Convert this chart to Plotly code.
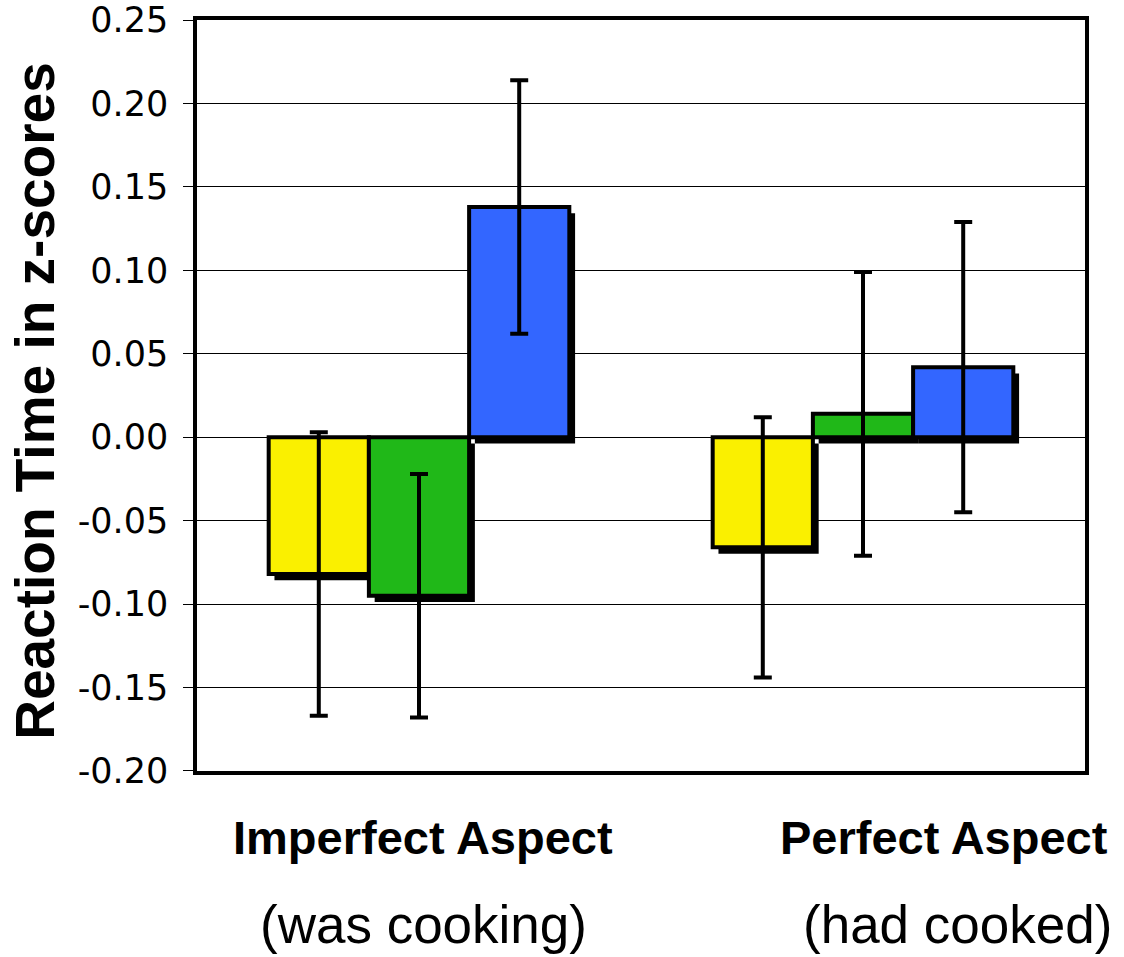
import plotly.graph_objects as go

# Aspect conditions along the x axis
categories = ["Imperfect Aspect", "Perfect Aspect"]
examples = ["(was cooking)", "(had cooked)"]

# Mean reaction times (z-scores) for the three conditions per aspect
series_names = ["Condition 1", "Condition 2", "Condition 3"]
yellow_vals = [-0.082, -0.066]
green_vals = [-0.095, 0.014]
blue_vals = [0.138, 0.042]

# Error bar half-lengths
yellow_err = [0.085, 0.078]
green_err = [0.073, 0.085]
blue_err = [0.076, 0.087]

y_ticks = [-0.20, -0.15, -0.10, -0.05, 0.00, 0.05, 0.10, 0.15, 0.20, 0.25]
y_tick_labels = ["-0.20", "-0.15", "-0.10", "-0.05", "0.00",
                 "0.05", "0.10", "0.15", "0.20", "0.25"]

values = [yellow_vals, green_vals, blue_vals]
errors = [yellow_err, green_err, blue_err]
colors = ["#FAF000", "#20B818", "#3366FF"]

bar_w = 0.2257          # width of each bar in category units
group_start = -1.5 * bar_w
shadow_dx = 0.013       # drop-shadow shift in category units
shadow_dy = -0.0038     # drop-shadow shift in data units

fig = go.Figure()

# Black drop shadows behind the bars
for i, vals in enumerate(values):
    fig.add_trace(go.Bar(
        x=categories, y=vals,
        base=shadow_dy,
        width=bar_w, offset=group_start + i * bar_w + shadow_dx,
        marker=dict(color="black", line=dict(width=0)),
        hoverinfo="skip", showlegend=False,
    ))

# Coloured bars with error bars
for i, (name, vals, errs, col) in enumerate(zip(series_names, values, errors, colors)):
    fig.add_trace(go.Bar(
        x=categories, y=vals, name=name,
        width=bar_w, offset=group_start + i * bar_w,
        marker=dict(color=col, line=dict(color="black", width=4)),
        error_y=dict(type="data", array=errs, visible=True,
                     color="black", thickness=4, width=9),
        showlegend=False,
    ))

fig.update_layout(
    width=1124, height=957,
    margin=dict(l=197, r=39, t=20, b=186, autoexpand=False),
    paper_bgcolor="white", plot_bgcolor="white",
    barmode="overlay",
    showlegend=False,
    font=dict(family="Liberation Sans, Arial, sans-serif", color="black"),
)

fig.update_xaxes(
    range=[-0.5, 1.5],
    showticklabels=False, ticks="",
    showgrid=False, zeroline=False,
    showline=True, linecolor="black", linewidth=3.5, mirror=True,
    automargin=False,
)

fig.update_yaxes(
    range=[-0.2001, 0.2501],
    tickmode="array", tickvals=y_ticks, ticktext=y_tick_labels,
    ticks="outside", ticklen=10, tickwidth=1, tickcolor="black",
    ticklabelstandoff=8,
    tickfont=dict(family="DejaVu Sans", size=35, color="black"),
    showgrid=True, gridcolor="black", gridwidth=1,
    zeroline=False,
    showline=True, linecolor="black", linewidth=3.5, mirror=True,
    automargin=False,
)

# Axis title
fig.add_annotation(
    text="<b>Reaction Time in z-scores</b>",
    xref="paper", yref="paper", x=-0.1824, y=0.493,
    xanchor="center", yanchor="middle", textangle=-90, showarrow=False,
    font=dict(family="Liberation Sans, Arial, sans-serif", size=55, color="black"),
)

# Category labels
label_x = [0.2545, 0.841]
example_x = [0.2556, 0.856]
for cat, ex, lx, ex_x in zip(categories, examples, label_x, example_x):
    fig.add_annotation(
        text=f"<b>{cat}</b>", xref="paper", yref="paper",
        x=lx, y=-0.0892, xanchor="center", yanchor="middle", showarrow=False,
        font=dict(family="Liberation Sans, Arial, sans-serif", size=47, color="black"),
    )
    fig.add_annotation(
        text=ex, xref="paper", yref="paper",
        x=ex_x, y=-0.205, xanchor="center", yanchor="middle", showarrow=False,
        font=dict(family="Liberation Sans, Arial, sans-serif", size=53, color="black"),
    )

fig.write_html("out.html")
